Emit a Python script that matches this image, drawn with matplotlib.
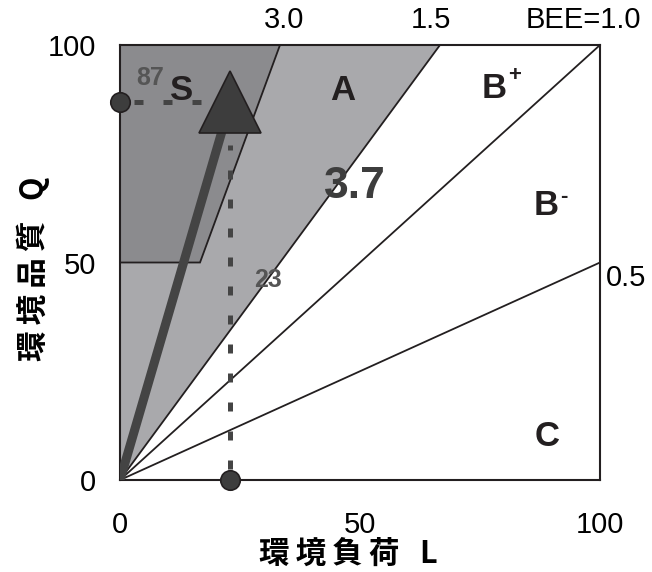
import matplotlib
matplotlib.use("Agg")
from matplotlib import pyplot as plt
from matplotlib.patches import Polygon

plt.rcParams['font.family'] = ['Liberation Sans', 'Noto Sans CJK JP', 'DejaVu Sans']

# BEE boundary lines (slope Q/L)
bee_values = [3.0, 1.5, 1.0, 0.5]
bee_labels = ["3.0", "1.5", "BEE=1.0", "0.5"]
# rank labels and where they sit (L, Q)
ranks = ["S", "A", "B", "B", "C"]
rank_sup = ["", "", "+", "-", ""]
rank_L = [12.8, 46.5, 78, 88.8, 89]
rank_Q = [89.5, 89.5, 90, 63, 10]
# assessed building
point_L = 23
point_Q = 87
point_bee = "3.7"

fig = plt.figure(figsize=(6.52, 5.72), dpi=100)
ax = fig.add_axes([120/652, 1 - 480/572, 480/652, 435/572])
ax.set_xlim(0, 100)
ax.set_ylim(0, 100)

# A region (light grey) then S region (dark grey) on top
ax.add_patch(Polygon([(0, 0), (0, 100), (100 / 1.5, 100)], closed=True,
                     facecolor="#a9a9ac", edgecolor="none", zorder=1))
ax.add_patch(Polygon([(0, 50), (0, 100), (100 / 3.0, 100), (50 / 3.0, 50)], closed=True,
                     facecolor="#8b8b8e", edgecolor="#231f20", lw=1.3, zorder=2))

# BEE lines
for b in bee_values:
    if b == 3.0:
        continue
    L_end = min(100, 100 / b)
    ax.plot([0, L_end], [0, L_end * b], color="#231f20", lw=1.3, zorder=3)

fs = 21
ax.text(100 / 3.0 + 0.8, 102.5, bee_labels[0], ha="center", va="bottom", fontsize=fs, clip_on=False)
ax.text(100 / 1.5 - 1.8, 102.5, bee_labels[1], ha="center", va="bottom", fontsize=fs, clip_on=False)
ax.text(96.5, 102.5, bee_labels[2], ha="center", va="bottom", fontsize=fs, clip_on=False)
ax.text(101.2, 46.5, bee_labels[3], ha="left", va="center", fontsize=fs, clip_on=False)

for r, sup, x, y in zip(ranks, rank_sup, rank_L, rank_Q):
    ax.text(x, y, r, ha="center", va="center", fontsize=25, fontweight="bold",
            color="#231f20", zorder=5)
    if sup:
        dx, dy = (14.5, 9) if sup == "+" else (12.5, 7)
        ax.annotate(sup, (x, y), xytext=(dx, dy), textcoords="offset points",
                    ha="center", va="center", fontsize=16, fontweight="bold",
                    color="#231f20", zorder=5)

# arrow from origin to the point
ax.plot([0, point_L - 1.8], [0, 80], color="#444444", lw=6.5, solid_capstyle="butt", zorder=6)
ax.plot([point_L], [point_Q], marker="^", markersize=44, color="#3d3d3d",
        markeredgecolor="#231f20", markeredgewidth=1.2, zorder=7)

# dashed guides and axis markers
ax.plot([3, point_L - 5], [point_Q, point_Q], color="#444444", lw=3.6,
        dashes=(1.8, 4.0), zorder=6)
ax.plot([point_L, point_L], [2.5, point_Q - 10], color="#444444", lw=3.6,
        dashes=(1.8, 4.0), zorder=6)
ax.plot([0, point_L], [point_Q, 0], linestyle="none", marker="o", markersize=14,
        color="#3d3d3d", markeredgecolor="#231f20", markeredgewidth=1.2,
        clip_on=False, zorder=8)

ax.text(6.3, 92.3, str(point_Q), ha="center", va="center", fontsize=18, fontweight="bold",
        color="#555555", zorder=5)
ax.text(30.8, 46, str(point_L), ha="center", va="center", fontsize=18, fontweight="bold",
        color="#555555", zorder=5)
ax.text(49, 67.5, point_bee, ha="center", va="center", fontsize=32, fontweight="bold",
        color="#3d3d3d", zorder=5)

for s in ax.spines.values():
    s.set_linewidth(1.5)
    s.set_color("#231f20")
    s.set_zorder(4)

ax.set_xticks([0, 50, 100])
ax.set_yticks([0, 50, 100])
ax.tick_params(length=0, labelsize=fs)
ax.tick_params(axis="x", pad=22)
ax.tick_params(axis="y", pad=17)

ts = "\u2009"
fig.text(348 / 652, 1 - 554 / 572, ts.join("環境負荷") + "   L", ha="center", va="center",
         fontsize=22, fontweight="bold", family=["Noto Sans CJK JP", "DejaVu Sans"])
fig.text(33 / 652, 1 - 269 / 572, ts.join("環境品質") + "   Q", ha="center", va="center",
         rotation=90, fontsize=22, fontweight="bold", family=["Noto Sans CJK JP", "DejaVu Sans"])

fig.savefig("out.png", dpi=100)
